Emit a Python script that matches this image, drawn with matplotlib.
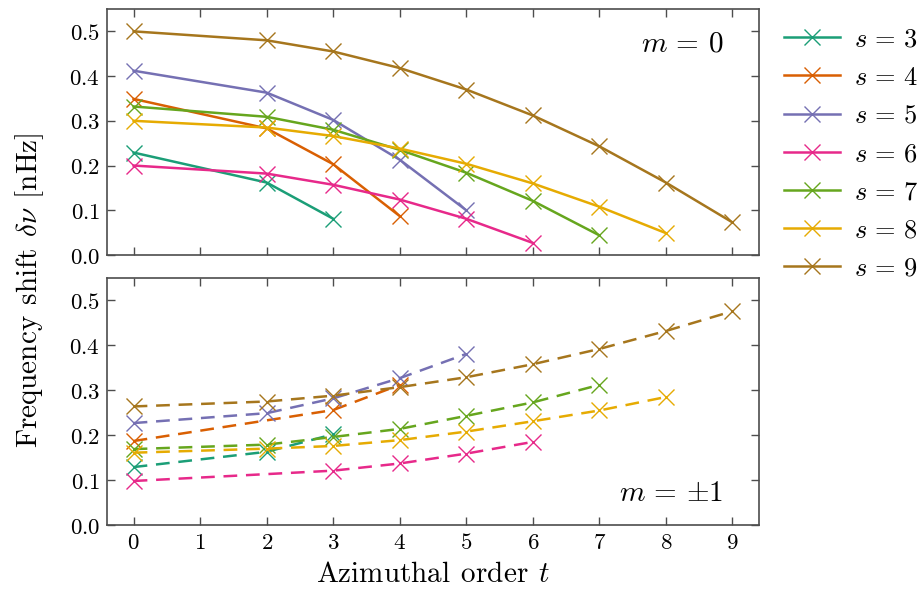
import numpy as np
import matplotlib
matplotlib.use("Agg")
import matplotlib.pyplot as plt
from matplotlib.ticker import FormatStrFormatter

plt.rcParams['mathtext.fontset'] = 'cm'
plt.rcParams['font.family'] = 'serif'
plt.rcParams['font.serif'] = ['DejaVu Serif']

colors = ['#1b9e77', '#d95f02', '#7570b3', '#e7298a', '#66a61e', '#e6ab02', '#a6761d']
s_values = [3, 4, 5, 6, 7, 8, 9]

# m = 0 (top panel)
t_m0 = {
    3: [0, 2, 3],
    4: [0, 2, 3, 4],
    5: [0, 2, 3, 4, 5],
    6: [0, 2, 3, 4, 5, 6],
    7: [0, 2, 3, 4, 5, 6, 7],
    8: [0, 2, 3, 4, 5, 6, 7, 8],
    9: [0, 2, 3, 4, 5, 6, 7, 8, 9],
}
dnu_m0 = {
    3: [0.229, 0.162, 0.081],
    4: [0.349, 0.283, 0.203, 0.087],
    5: [0.412, 0.363, 0.302, 0.213, 0.100],
    6: [0.200, 0.182, 0.157, 0.124, 0.081, 0.027],
    7: [0.332, 0.309, 0.280, 0.235, 0.184, 0.121, 0.044],
    8: [0.300, 0.285, 0.266, 0.238, 0.204, 0.160, 0.108, 0.049],
    9: [0.500, 0.480, 0.455, 0.418, 0.370, 0.312, 0.243, 0.162, 0.073],
}

# m = +-1 (bottom panel)
t_m1 = {
    3: [0, 2, 3],
    4: [0, 3, 4],
    5: [0, 2, 3, 4, 5],
    6: [0, 3, 4, 5, 6],
    7: [0, 2, 3, 4, 5, 6, 7],
    8: [0, 2, 3, 4, 5, 6, 7, 8],
    9: [0, 2, 3, 4, 5, 6, 7, 8, 9],
}
dnu_m1 = {
    3: [0.129, 0.163, 0.202],
    4: [0.187, 0.256, 0.312],
    5: [0.227, 0.249, 0.282, 0.327, 0.381],
    6: [0.098, 0.121, 0.137, 0.159, 0.185],
    7: [0.169, 0.179, 0.196, 0.214, 0.243, 0.273, 0.312],
    8: [0.161, 0.170, 0.176, 0.189, 0.208, 0.231, 0.255, 0.285],
    9: [0.264, 0.275, 0.288, 0.307, 0.329, 0.358, 0.392, 0.432, 0.476],
}

W, H = 921, 593
fig = plt.figure(figsize=(W / 100, H / 100), dpi=100)
ax1 = fig.add_axes([107 / W, (H - 255) / H, (759 - 107) / W, (255 - 9) / H])
ax2 = fig.add_axes([107 / W, (H - 525) / H, (759 - 107) / W, (525 - 278) / H])

for c, s in zip(colors, s_values):
    ax1.plot(t_m0[s], dnu_m0[s], color=c, lw=1.8, marker='x', ms=11, mew=1.0,
             label=r'$s\,=\,%d$' % s)
    ax2.plot(t_m1[s], dnu_m1[s], color=c, lw=1.8, marker='x', ms=11, mew=1.0,
             dashes=(5.5, 3.5))

for ax in (ax1, ax2):
    ax.set_xlim(-0.4, 9.4)
    ax.set_ylim(0, 0.55)
    ax.set_xticks(range(10))
    ax.set_yticks([0.0, 0.1, 0.2, 0.3, 0.4, 0.5])
    ax.yaxis.set_major_formatter(FormatStrFormatter(r'$%.1f$'))
    ax.xaxis.set_major_formatter(FormatStrFormatter(r'$%d$'))
    ax.tick_params(direction='in', top=True, right=True, length=6, width=1,
                   color='0.3', labelsize=16.5, pad=5)
    for sp in ax.spines.values():
        sp.set_color('0.3')
        sp.set_linewidth(1.2)

ax1.tick_params(labelbottom=False)

ax1.text(0.945, 0.86, r'$m\,=\,0$', transform=ax1.transAxes, ha='right',
         va='center', fontsize=21)
ax2.text(0.945, 0.13, r'$m\,=\,{\pm}1$', transform=ax2.transAxes, ha='right',
         va='center', fontsize=21)

ax2.set_xlabel(r'$\mathrm{Azimuthal\;\,order}\;\,t$', fontsize=21, labelpad=4)
fig.text(30 / W, (H - 290) / H,
         r'$\mathrm{Frequency\;\,shift}\;\,\delta\nu\;\,[\mathrm{nHz}]$',
         rotation=90, ha='center', va='center', fontsize=21)

fig.legend(loc='upper left', bbox_to_anchor=(766 / W, 1 - 8 / H), frameon=False,
           numpoints=1, fontsize=19, handlelength=2.1, labelspacing=0.5,
           handletextpad=0.55, borderpad=0.2)

fig.savefig('out.png', dpi=100)
